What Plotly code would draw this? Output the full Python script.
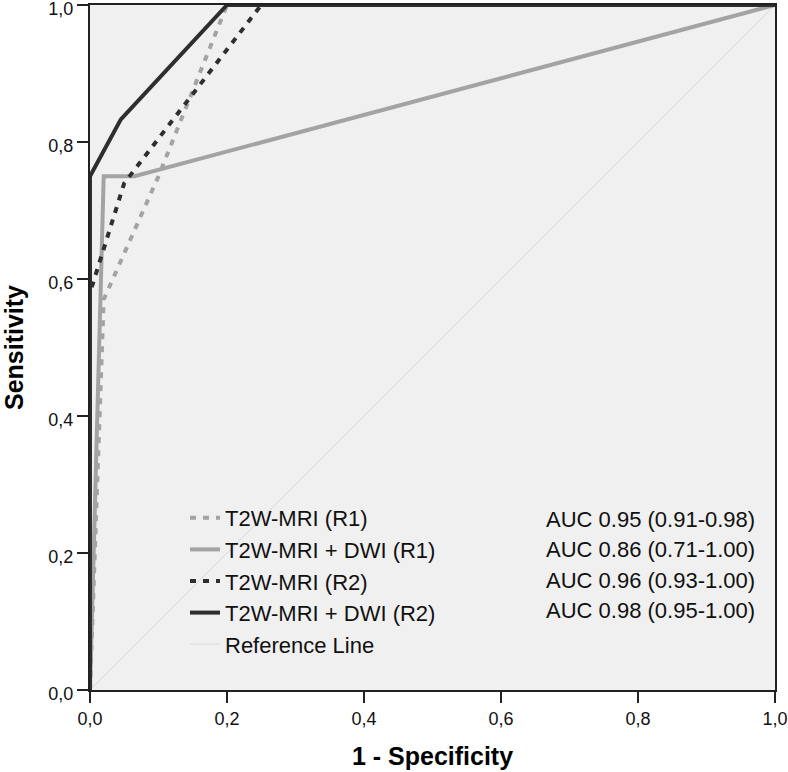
import plotly.graph_objects as go

# ROC curve data (1 - specificity, sensitivity)
fpr_t2w_r1 = [0.0, 0.02, 0.10, 0.20, 1.0]
tpr_t2w_r1 = [0.0, 0.57, 0.75, 1.0, 1.0]

fpr_dwi_r1 = [0.0, 0.02, 0.065, 1.0]
tpr_dwi_r1 = [0.0, 0.75, 0.75, 1.0]

fpr_t2w_r2 = [0.0, 0.0, 0.05, 0.25, 1.0]
tpr_t2w_r2 = [0.0, 0.58, 0.74, 1.0, 1.0]

fpr_dwi_r2 = [0.0, 0.0, 0.045, 0.20, 1.0]
tpr_dwi_r2 = [0.0, 0.75, 0.833, 1.0, 1.0]

ref_x = [0.0, 1.0]
ref_y = [0.0, 1.0]

series_names = ["T2W-MRI (R1)", "T2W-MRI + DWI (R1)", "T2W-MRI (R2)", "T2W-MRI + DWI (R2)"]
auc_labels = ["AUC 0.95 (0.91-0.98)", "AUC 0.86 (0.71-1.00)",
              "AUC 0.96 (0.93-1.00)", "AUC 0.98 (0.95-1.00)"]
ref_name = "Reference Line"
tick_vals = [0.0, 0.2, 0.4, 0.6, 0.8, 1.0]

FONT = "Liberation Sans, Arial"
light = "#a3a3a3"
dark = "#2e2e2e"
dotdash = "6px,7px"

fig = go.Figure()
fig.add_trace(go.Scatter(x=ref_x, y=ref_y, mode="lines", name=ref_name,
                         line=dict(color="#d9d9d9", width=1), legendrank=5))
fig.add_trace(go.Scatter(x=fpr_t2w_r1, y=tpr_t2w_r1, mode="lines", name=series_names[0],
                         line=dict(color=light, width=4, dash=dotdash), legendrank=1))
fig.add_trace(go.Scatter(x=fpr_dwi_r1, y=tpr_dwi_r1, mode="lines", name=series_names[1],
                         line=dict(color=light, width=4), legendrank=2))
fig.add_trace(go.Scatter(x=fpr_t2w_r2, y=tpr_t2w_r2, mode="lines", name=series_names[2],
                         line=dict(color=dark, width=4, dash=dotdash), legendrank=3))
fig.add_trace(go.Scatter(x=fpr_dwi_r2, y=tpr_dwi_r2, mode="lines", name=series_names[3],
                         line=dict(color=dark, width=4), legendrank=4))

# AUC labels aligned with legend rows
row_y_px = [519, 549, 580, 610]
H = 772
T, B = 5, 82
plot_h = H - T - B
for lab, ypx in zip(auc_labels, row_y_px):
    fig.add_annotation(text=lab, xref="paper", yref="paper",
                       x=(757 - 90) / 685, y=(690 - ypx) / plot_h,
                       xanchor="right", yanchor="middle", showarrow=False,
                       font=dict(family=FONT, size=22, color="#111"))

axis_common = dict(range=[0, 1], tickvals=tick_vals, tickformat=".1f",
                   ticks="outside", ticklen=11, tickwidth=2, tickcolor="#222",
                   showline=True, linecolor="#222", linewidth=2, mirror=True,
                   showgrid=False, zeroline=False, automargin=False,
                   ticklabeloverflow="allow",
                   tickfont=dict(family=FONT, size=18, color="#111"))

fig.update_layout(
    width=788, height=772,
    margin=dict(l=90, r=13, t=T, b=B, autoexpand=False),
    paper_bgcolor="white", plot_bgcolor="#f0f0f0",
    separators=", ",
    showlegend=True,
    legend=dict(x=(185 - 90) / 685, y=(690 - 497) / plot_h, xanchor="left", yanchor="top",
                bgcolor="rgba(0,0,0,0)", borderwidth=0,
                font=dict(family=FONT, size=22, color="#111"),
                traceorder="normal"),
    xaxis=dict(title=dict(text="<b>1 - Specificity</b>", standoff=20,
                          font=dict(family=FONT, size=25, color="#000")),
               **axis_common),
    yaxis=dict(title=dict(text="<b>Sensitivity</b>", standoff=24,
                          font=dict(family=FONT, size=25, color="#000")),
               ticklabelshift=4,
               **axis_common),
)

fig.write_html("out.html", config={"displayModeBar": False},
               post_script="document.body.style.margin='0';")
